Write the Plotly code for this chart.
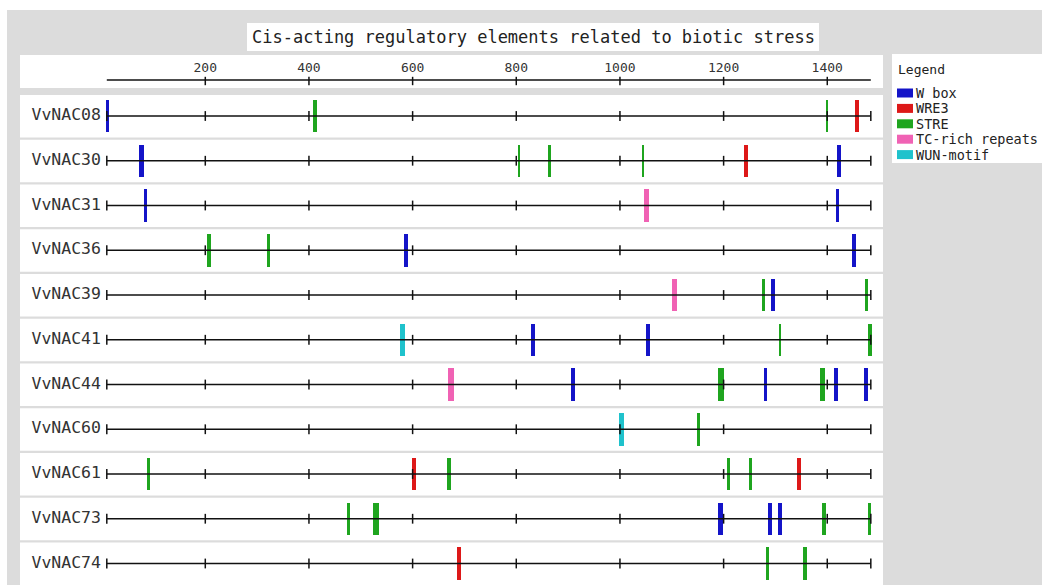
import plotly.graph_objects as go

# ---------------- data ----------------
TITLE = "Cis-acting regulatory elements related to biotic stress"
GENES = ["VvNAC08", "VvNAC30", "VvNAC31", "VvNAC36", "VvNAC39", "VvNAC41",
         "VvNAC44", "VvNAC60", "VvNAC61", "VvNAC73", "VvNAC74"]
ELEMENTS = ["W box", "WRE3", "STRE", "TC-rich repeats", "WUN-motif"]
ELEMENT_COLORS = ["#1414c8", "#dd1818", "#1fa51f", "#f062b4", "#1fc2cc"]
SEQ_START = 10
SEQ_END = 1484
AXIS_TICKS = [200, 400, 600, 800, 1000, 1200, 1400]

# one entry per element site: gene, element, position (bp), site length (bp)
SITE_GENE = (["VvNAC08"] * 4 + ["VvNAC30"] * 6 + ["VvNAC31"] * 3 + ["VvNAC36"] * 4 +
             ["VvNAC39"] * 4 + ["VvNAC41"] * 5 + ["VvNAC44"] * 7 + ["VvNAC60"] * 2 +
             ["VvNAC61"] * 6 + ["VvNAC73"] * 7 + ["VvNAC74"] * 3)
SITE_ELEMENT = [
    "W box", "STRE", "STRE", "WRE3",
    "W box", "STRE", "STRE", "STRE", "WRE3", "W box",
    "W box", "TC-rich repeats", "W box",
    "STRE", "STRE", "W box", "W box",
    "TC-rich repeats", "STRE", "W box", "STRE",
    "WUN-motif", "W box", "W box", "STRE", "STRE",
    "TC-rich repeats", "W box", "STRE", "W box", "STRE", "W box", "W box",
    "WUN-motif", "STRE",
    "STRE", "WRE3", "STRE", "STRE", "STRE", "WRE3",
    "STRE", "STRE", "W box", "W box", "W box", "STRE", "STRE",
    "WRE3", "STRE", "STRE",
]
SITE_POS = [
    11, 412, 1399, 1457,
    77, 806, 864, 1045, 1243, 1423,
    85, 1052, 1420,
    207, 322, 587, 1452,
    1106, 1277, 1295, 1476,
    580, 833, 1054, 1309, 1482,
    674, 910, 1195, 1281, 1391, 1416, 1475,
    1003, 1151,
    91, 603, 670, 1210, 1251, 1346,
    477, 529, 1194, 1290, 1309, 1393, 1481,
    690, 1284, 1357,
]
SITE_LEN = [
    6, 8, 4, 7,
    8, 4, 7, 4, 8, 8,
    5, 10, 7,
    8, 4, 8, 8,
    10, 5, 8, 5,
    10, 8, 8, 5, 8,
    10, 8, 10, 6, 9, 8, 8,
    10, 6,
    6, 8, 8, 6, 6, 8,
    6, 12, 10, 8, 8, 8, 6,
    8, 6, 8,
]

# ---------------- layout helpers ----------------
W, H = 1042, 585
X0_PX, X_SCALE = 101.62, 0.51833      # pixel of position 0, pixels per bp
ROW0_PX, ROW_STEP = 116.0, 44.75      # pixel of first row centre, row spacing
FONT = "DejaVu Sans Mono"
INK = "#111111"


def px_x(p):
    return (p - X0_PX) / X_SCALE


def px_y(p):
    return (p - ROW0_PX) / ROW_STEP


def rect(x0, y0, x1, y1, color, layer="below"):
    return dict(type="rect", xref="paper", yref="paper",
                x0=x0 / W, x1=x1 / W, y0=1 - y1 / H, y1=1 - y0 / H,
                fillcolor=color, line_width=0, layer=layer)


row_of = {g: i for i, g in enumerate(GENES)}

shapes = [rect(7, 10, W, H, "#dcdcdc"),
          rect(247, 23, 819, 51, "white"),
          rect(20, 55, 883, 88, "white"),
          rect(892, 54, W, 163, "white")]
for i in range(len(GENES)):
    c = ROW0_PX + ROW_STEP * i
    shapes.append(rect(20, c - 21, 883, c + 21.5, "white"))

fig = go.Figure()

# header axis
fig.add_trace(go.Scatter(x=[SEQ_START, SEQ_END], y=[px_y(80)] * 2, mode="lines",
                         line=dict(color=INK, width=1.5), hoverinfo="skip"))
fig.add_trace(go.Scatter(x=AXIS_TICKS, y=[px_y(81)] * len(AXIS_TICKS), mode="markers",
                         marker=dict(symbol="line-ns", size=6,
                                     line=dict(color=INK, width=1.5)),
                         hoverinfo="skip"))
fig.add_trace(go.Scatter(x=AXIS_TICKS, y=[px_y(69)] * len(AXIS_TICKS), mode="text",
                         text=[str(t) for t in AXIS_TICKS],
                         textfont=dict(family=FONT, size=13, color="#333"),
                         hoverinfo="skip"))

# row sequence lines and ticks
lx, ly, tx, ty = [], [], [], []
for i in range(len(GENES)):
    lx += [SEQ_START, SEQ_END, None]
    ly += [i, i, None]
    for t in [SEQ_START] + AXIS_TICKS + [SEQ_END]:
        tx.append(t)
        ty.append(i)
fig.add_trace(go.Scatter(x=lx, y=ly, mode="lines",
                         line=dict(color=INK, width=1.5), hoverinfo="skip"))
fig.add_trace(go.Scatter(x=tx, y=ty, mode="markers",
                         marker=dict(symbol="line-ns", size=7,
                                     line=dict(color=INK, width=1.5)),
                         hoverinfo="skip"))

# row labels
fig.add_trace(go.Scatter(x=[px_x(101)] * len(GENES), y=list(range(len(GENES))),
                         mode="text", text=GENES, textposition="middle left",
                         textfont=dict(family=FONT, size=16.5, color="#333"),
                         hoverinfo="skip"))

# element sites
for el, col in zip(ELEMENTS, ELEMENT_COLORS):
    idx = [k for k, e in enumerate(SITE_ELEMENT) if e == el]
    fig.add_trace(go.Bar(
        x=[SITE_POS[k] for k in idx],
        y=[0.725] * len(idx),
        base=[row_of[SITE_GENE[k]] - 0.36 for k in idx],
        width=[SITE_LEN[k] for k in idx],
        marker=dict(color=col, line_width=0),
        name=el, hovertext=[SITE_GENE[k] for k in idx]))

# title and legend (drawn by hand)
annotations = [dict(text=TITLE, xref="paper", yref="paper", x=533 / W, y=1 - 37 / H,
                    showarrow=False, font=dict(family=FONT, size=17, color="#222"),
                    xanchor="center", yanchor="middle"),
               dict(text="Legend", xref="paper", yref="paper", x=896 / W, y=1 - 69 / H,
                    showarrow=False, font=dict(family=FONT, size=13, color="#222"),
                    xanchor="left", yanchor="middle")]
for j, (el, col) in enumerate(zip(ELEMENTS, ELEMENT_COLORS)):
    cy = 93 + 15.4 * j
    shapes.append(rect(897, cy - 4.5, 913, cy + 4.5, col, layer="above"))
    annotations.append(dict(text=el, xref="paper", yref="paper", x=914 / W, y=1 - cy / H,
                            showarrow=False, font=dict(family=FONT, size=13.5, color="#222"),
                            xanchor="left", yanchor="middle"))

fig.update_layout(
    width=W, height=H, autosize=False,
    margin=dict(l=0, r=0, t=0, b=0, pad=0),
    paper_bgcolor="white", plot_bgcolor="rgba(0,0,0,0)",
    showlegend=False, barmode="overlay", bargap=0,
    xaxis=dict(range=[px_x(0), px_x(W)], visible=False, fixedrange=True),
    yaxis=dict(range=[px_y(H), px_y(0)], visible=False, fixedrange=True),
    shapes=shapes, annotations=annotations,
)

fig.write_html("out.html", config={"displayModeBar": False},
               post_script="document.body.style.margin='0';")
